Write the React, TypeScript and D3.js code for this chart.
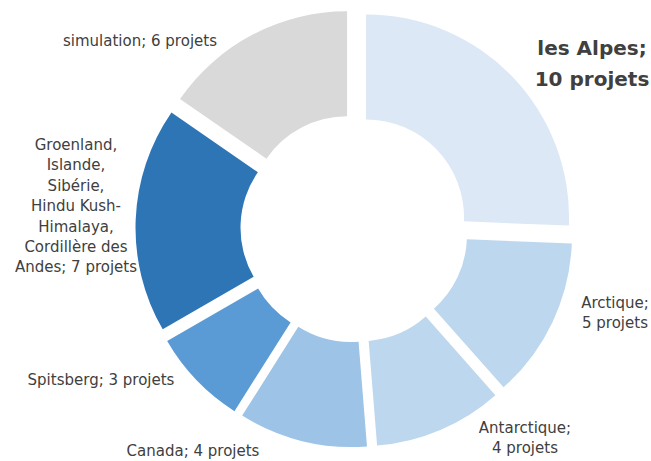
import React from "react";
import * as d3 from "d3";

const categories = [
  "les Alpes",
  "Arctique",
  "Antarctique",
  "Canada",
  "Spitsberg",
  "Groenland, Islande, Sibérie, Hindu Kush-Himalaya, Cordillère des Andes",
  "simulation",
];
const values = [10, 5, 4, 4, 3, 7, 6];
const colors = ["#dce8f5", "#bdd7ee", "#bdd7ee", "#9dc3e6", "#5b9bd5", "#2e75b6", "#d9d9d9"];
const labelLines: string[][] = [
  ["les Alpes;", "10 projets"],
  ["Arctique;", "5 projets"],
  ["Antarctique;", "4 projets"],
  ["Canada; 4 projets"],
  ["Spitsberg; 3 projets"],
  ["Groenland,", "Islande,", "Sibérie,", "Hindu Kush-", "Himalaya,", "Cordillère des", "Andes; 7 projets"],
  ["simulation; 6 projets"],
];
const labelPos: [number, number][] = [
  [592, 55],
  [615, 308],
  [525, 433],
  [193, 456],
  [101, 385],
  [76, 150],
  [140, 46],
];

const W = 651;
const H = 461;
const cx = 354.5;
const cy = 228.5;
const R = 203;
const r = 98;
const explode = 16;

export default function App() {
  const pie = d3.pie<number>().sort(null).value((d) => d);
  const arcs = pie(values);
  const arcGen = d3.arc<d3.PieArcDatum<number>>().innerRadius(r).outerRadius(R);
  return (
    <svg width={W} height={H} style={{ position: "absolute", left: 0, top: 0, background: "#fff" }}>
      <g transform={`translate(${cx},${cy})`}>
        {arcs.map((a, i) => {
          const mid = (a.startAngle + a.endAngle) / 2;
          const dx = Math.sin(mid) * explode;
          const dy = -Math.cos(mid) * explode;
          return (
            <path
              key={categories[i]}
              d={arcGen(a) || ""}
              fill={colors[i]}
              transform={`translate(${dx},${dy})`}
            />
          );
        })}
      </g>
      {labelLines.map((lines, i) => {
        const bold = i === 0;
        const lh = bold ? 31 : 20.4;
        return (
          <text
            key={"l" + i}
            x={labelPos[i][0]}
            y={labelPos[i][1]}
            textAnchor="middle"
            fontFamily="'DejaVu Sans', sans-serif"
            fontSize={bold ? 20 : 15}
            fontWeight={bold ? "bold" : "normal"}
            fill="#404040"
          >
            {lines.map((t, j) => (
              <tspan key={j} x={labelPos[i][0]} dy={j === 0 ? 0 : lh}>
                {t}
              </tspan>
            ))}
          </text>
        );
      })}
    </svg>
  );
}
